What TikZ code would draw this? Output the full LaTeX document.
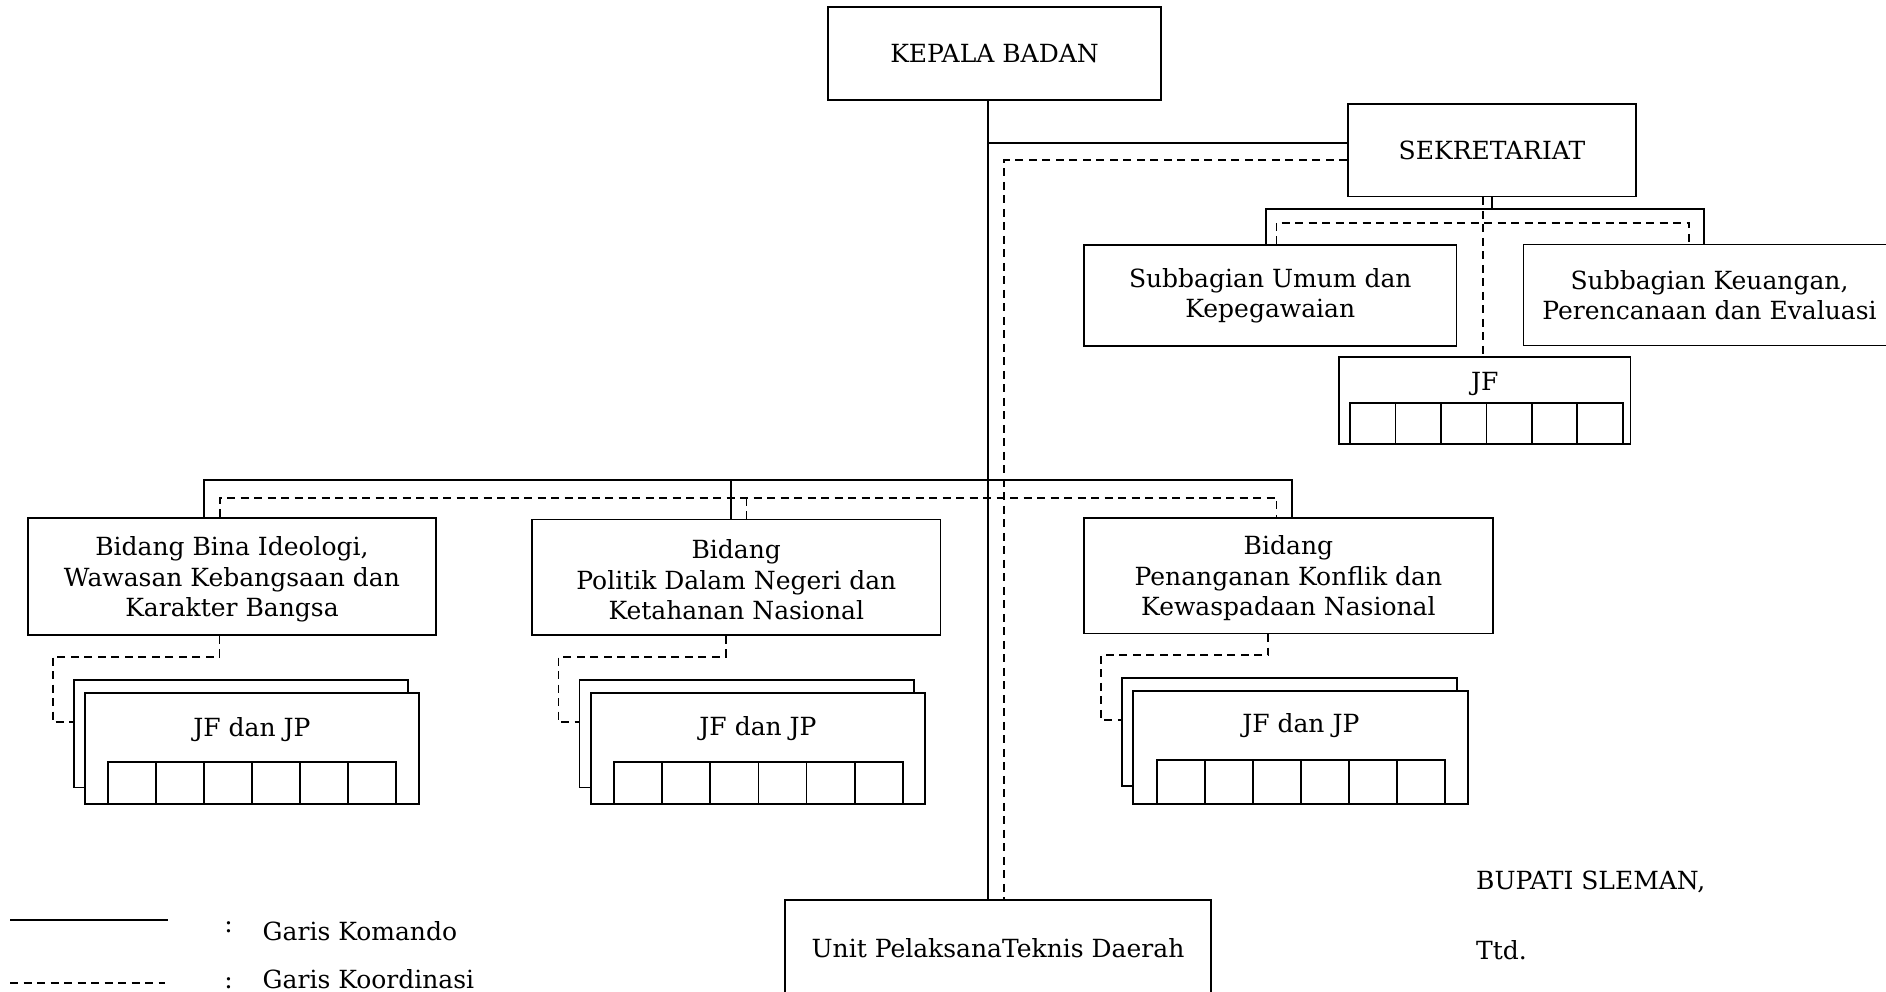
\documentclass[tikz,border=0pt]{standalone}
\usepackage{fontspec}
\setmainfont{DejaVu Serif}
\newcommand\chartfont{\fontsize{25}{30.5}\selectfont}
\begin{document}
\begin{tikzpicture}[x=1pt,y=-1pt,
  cmd/.style={line width=1.7pt},
  coord/.style={line width=1.7pt, dash pattern=on 8pt off 5.5pt},
  box/.style={draw, line width=1.7pt, fill=white, inner sep=0pt, align=center, font=\chartfont},
  txt/.style={inner sep=0pt, font=\chartfont},
  cell/.style={line width=1.7pt}]
\useasboundingbox (0,0) rectangle (1886,992);
\clip (0,0) rectangle (1886,992);
\fill[white] (0,0) rectangle (1886,992);

% ---- boxes ----
\node[box, minimum width=333pt, minimum height=93pt] (kepala) at (994.5,53.5) {KEPALA BADAN};
\node[box, minimum width=288pt, minimum height=92.5pt] (sekr) at (1492,150.3) {SEKRETARIAT};
\node[box, minimum width=372.5pt, minimum height=100.5pt] (subum) at (1270.3,295.6) {Subbagian Umum dan\\Kepegawaian};
\node[box, minimum width=372pt, minimum height=101pt] (subkeu) at (1709.5,295.1) {Subbagian Keuangan,\\Perencanaan dan Evaluasi};
\node[box, minimum width=291.5pt, minimum height=87pt] (jfsek) at (1484.8,400.8) {};
\node[txt, anchor=base] (jfsekt) at (1484.8,390) {JF};
\foreach \i in {0,...,5} \draw[cell] (1350+45.45*\i,402.7) rectangle ++(45.45,41.6);

\node[box, minimum width=408.5pt, minimum height=116.5pt] (bid1) at (232,576.5) {};
\node[txt, align=center] (bid1t) at (232,579.5) {Bidang Bina Ideologi,\\Wawasan Kebangsaan dan\\Karakter Bangsa};
\node[box, minimum width=408.5pt, minimum height=115.5pt] (bid2) at (736.3,577.3) {};
\node[txt, align=center] (bid2t) at (736.3,580) {Bidang\\Politik Dalam Negeri dan\\Ketahanan Nasional};
\node[box, minimum width=408.7pt, minimum height=115.3pt] (bid3) at (1288.4,575.7) {};
\node[txt, align=center] (bid3t) at (1288.4,578.2) {Bidang\\Penanganan Konflik dan\\Kewaspadaan Nasional};

% JF dan JP stacks
\node[box, minimum width=334pt, minimum height=107.3pt] (jf1b) at (240.7,733.7) {};
\node[box, minimum width=334pt, minimum height=111.3pt] (jf1) at (251.8,748.4) {};
\node[txt, anchor=base] (jf1t) at (252,736.7) {JF dan JP};
\foreach \i in {0,...,5} \draw[cell] (108+48*\i,761.7) rectangle ++(48,42.3);

\node[box, minimum width=334.8pt, minimum height=107.3pt] (jf2b) at (746.9,733.7) {};
\node[box, minimum width=334pt, minimum height=111.3pt] (jf2) at (758,748.4) {};
\node[txt, anchor=base] (jf2t) at (758,735) {JF dan JP};
\foreach \i in {0,...,5} \draw[cell] (613.8+48.2*\i,761.7) rectangle ++(48.2,42.3);

\node[box, minimum width=334.4pt, minimum height=107.4pt] (jf3b) at (1289.5,732) {};
\node[box, minimum width=334.4pt, minimum height=113pt] (jf3) at (1300.5,747.5) {};
\node[txt, anchor=base] (jf3t) at (1300.8,732.3) {JF dan JP};
\foreach \i in {0,...,5} \draw[cell] (1156.7+48.05*\i,760) rectangle ++(48.05,44);

\node[box, minimum width=426.2pt, minimum height=140pt] (uptd) at (998.1,970) {};
\node[txt] (uptdt) at (998,948) {Unit PelaksanaTeknis Daerah};

% ---- routing points ----
\coordinate (tk) at (988,0);
\coordinate (ks) at (988,142.7);
\coordinate (kd) at (1004.3,160.3);
\coordinate (ss) at (1492,208.8);
\coordinate (sl) at (1266.2,208.8);
\coordinate (sr) at (1703.9,208.8);
\coordinate (sd) at (1483,222.7);
\coordinate (sdl) at (1276.4,222.7);
\coordinate (sdr) at (1688.8,222.7);
\coordinate (bl) at (203.7,480);
\coordinate (bm) at (731,480);
\coordinate (br) at (1292.2,480);
\coordinate (dl) at (219.8,497.7);
\coordinate (dm) at (746.5,497.7);
\coordinate (dr) at (1276.5,497.7);
\coordinate (a1) at (219.6,656.7);
\coordinate (b1) at (52.7,722.3);
\coordinate (a2) at (725.9,656.7);
\coordinate (b2) at (558.5,722.3);
\coordinate (a3) at (1268.3,655);
\coordinate (b3) at (1101,720);

% ---- command lines ----
\draw[cmd] (kepala.south -| tk) -- (uptd.north -| tk);
\draw[cmd] (ks) -- (ks -| sekr.west);
\draw[cmd] (sekr.south -| ss) -- (ss);
\draw[cmd] (subum.north -| sl) -- (sl) -- (sr) -- (subkeu.north -| sr);
\draw[cmd] (bid1.north -| bl) -- (bl) -- (br) -- (bid3.north -| br);
\draw[cmd] (bm) -- (bid2.north -| bm);

% ---- coordination lines ----
\draw[coord] (kd -| sekr.west) -- (kd) -- (uptd.north -| kd);
\draw[coord] (sekr.south -| sd) -- (jfsek.north -| sd);
\draw[coord] (subum.north -| sdl) -- (sdl) -- (sdr) -- (subkeu.north -| sdr);
\draw[coord] (bid1.north -| dl) -- (dl) -- (dr) -- (bid3.north -| dr);
\draw[coord] (dm) -- (bid2.north -| dm);
\draw[coord] (bid1.south -| a1) -- (a1) -| (b1) -- (b1 -| jf1b.west);
\draw[coord] (bid2.south -| a2) -- (a2) -| (b2) -- (b2 -| jf2b.west);
\draw[coord] (bid3.south -| a3) -- (a3) -| (b3) -- (b3 -| jf3b.west);

% ---- legend ----
\coordinate (la) at (10,920);
\coordinate (lb) at (168,920);
\coordinate (lc) at (10,983);
\coordinate (ld) at (165,983);
\draw[cmd] (la) -- (lb);
\draw[coord] (lc) -- (ld);
\node[txt, anchor=base] (col1) at (228.6,932) {:};
\node[txt, anchor=base] (col2) at (228.6,988.5) {:};
\node[txt, anchor=base west] (lk) at (262.5,940) {Garis Komando};
\node[txt, anchor=base west] (lko) at (262.5,988.5) {Garis Koordinasi};

% ---- signature ----
\node[txt, anchor=base west] (bupati) at (1476,889.3) {BUPATI SLEMAN,};
\node[txt, anchor=base west] (ttd) at (1476,959) {Ttd.};
\end{tikzpicture}
\end{document}
